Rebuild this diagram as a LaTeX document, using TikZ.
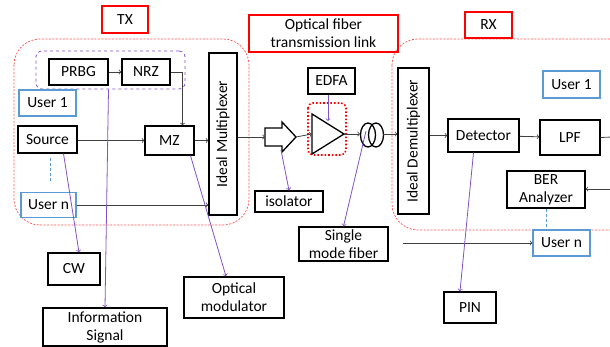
\documentclass[tikz,border=0pt]{standalone}
\usepackage{fontspec}
\setmainfont{Carlito}
\usepackage{graphicx}
\usepackage{tikz}
\usetikzlibrary{arrows}

\definecolor{boxblue}{RGB}{91,155,213}
\definecolor{sigpurple}{RGB}{128,82,200}
\definecolor{zonered}{RGB}{255,80,80}

\begin{document}
\begin{tikzpicture}[x=1pt, y=-1pt, font=\fontsize{15.5}{18}\selectfont]
    \tikzset{blk/.style = {shape=rectangle, draw, line width=1.3pt, inner sep=0pt, align=center}}
    \tikzset{usr/.style = {blk, draw=boxblue}}
    \tikzset{lbl/.style = {blk, draw=red}}
    \tikzset{zone/.style = {draw=zonered, dash pattern=on 2pt off 1.5pt, line width=0.7pt, rounded corners=26pt}}
    \tikzset{conn/.style = {draw=black!75, line width=0.8pt, ->}}
    \tikzset{sig/.style = {draw=sigpurple, line width=0.8pt, ->}}

    \useasboundingbox (0,0) rectangle (610,347);
    \clip (0,0) rectangle (610,347);

    % zones
    \draw[zone] (14,39) rectangle (249,225);
    \draw[zone] (392,39) rectangle (660,230);
    \node[draw=sigpurple, dashed, line width=0.8pt, rounded corners=6pt, minimum width=149, minimum height=38] (msg) at (110.5,70) {};
    \draw[red, dotted, line width=1.6pt, rounded corners=5pt] (308,103) rectangle (346,155);

    % titles
    \node[lbl, minimum width=46, minimum height=27] (tx) at (125,19.5) {TX};
    \node[lbl, minimum width=149, minimum height=37] (link) at (323.5,33.5) {Optical fiber\\transmission link};
    \node[lbl, minimum width=47, minimum height=26] (rx) at (488.5,25) {RX};

    % transmitter
    \node[blk, minimum width=59, minimum height=26] (prbg) at (78.5,72) {PRBG};
    \node[blk, minimum width=48, minimum height=26] (nrz) at (146,72) {NRZ};
    \node[usr, minimum width=57, minimum height=26] (uone) at (47.5,103) {User 1};
    \node[blk, minimum width=59, minimum height=27] (src) at (47.5,139.5) {Source};
    \node[blk, minimum width=49, minimum height=29] (mz) at (169.5,140.5) {MZ};
    \node[blk, minimum width=28, minimum height=162] (mux) at (223,134) {\rotatebox{90}{Ideal Multiplexer}};
    \node[usr, minimum width=55, minimum height=25] (un) at (48.5,205) {User n};
    \node[blk, minimum width=52, minimum height=32] (cw) at (74,269) {CW};
    \node[blk, minimum width=124, minimum height=38] (info) at (105,327) {Information\\Signal};
    \node[blk, minimum width=100, minimum height=41] (mod) at (234,297.5) {Optical\\modulator};

    % link
    \draw[line width=1.3pt] (265,128) -- (282,128) -- (282,122) -- (296,137) -- (282,152) -- (282,146) -- (265,146) -- cycle;
    \draw[line width=1.3pt] (312,114) -- (344,134) -- (312,154) -- cycle;
    \draw[line width=1.3pt] (368,135) ellipse (7.5 and 12);
    \draw[line width=1.3pt] (376,135) ellipse (7.5 and 12);
    \coordinate (isoin) at (265,137);
    \coordinate (isoout) at (296,137);
    \coordinate (isobot) at (281,150);
    \coordinate (ampin) at (312,134);
    \coordinate (ampout) at (344,134);
    \coordinate (ampmid) at (328,121);
    \coordinate (coilin) at (360,134);
    \coordinate (coilout) at (383,134);
    \coordinate (coilmid) at (366,131);
    \node[blk, minimum width=47, minimum height=26] (edfa) at (331.5,81) {EDFA};
    \node[blk, minimum width=68, minimum height=21] (iso) at (289,201.5) {isolator};
    \node[blk, minimum width=89, minimum height=34] (smf) at (343.5,244) {Single\\mode fiber};

    % receiver
    \node[blk, minimum width=31, minimum height=146] (demux) at (413.5,141) {\rotatebox{90}{Ideal Demultiplexer}};
    \node[blk, minimum width=71, minimum height=33] (det) at (483.5,135.5) {Detector};
    \node[blk, minimum width=60, minimum height=35] (lpf) at (570,137.5) {LPF};
    \node[usr, minimum width=57, minimum height=27] (rone) at (571.5,84.5) {User 1};
    \node[blk, minimum width=78, minimum height=37] (ber) at (546,189.5) {BER\\Analyzer};
    \node[usr, minimum width=57, minimum height=26] (rn) at (561.5,243) {User n};
    \node[blk, minimum width=52, minimum height=31] (pin) at (470,307.5) {PIN};
    \coordinate (lpfout) at (612,137);
    \coordinate (berin) at (612,189);
    \coordinate (rnin) at (403,243);

    % edges
    \draw[conn] (prbg) -- (nrz);
    \draw[conn] (nrz.east) -| ([xshift=13pt]mz.north);
    \draw[conn] (src.east |- mz) -- (mz);
    \draw[conn] (mz) -- (mz -| mux.west);
    \draw[conn] (un) -- (un -| mux.west);
    \draw[conn] (mux.east |- isoin) -- (isoin);
    \draw[conn] (isoout) -- (ampin);
    \draw[conn] (ampout) -- (coilin);
    \draw[conn] (coilout) -- (coilout -| demux.west);
    \draw[conn] (demux.east |- det) -- (det);
    \draw[conn] (det) -- (lpf);
    \draw[draw=black!75, line width=0.8pt] (lpf.east) -- (lpfout);
    \draw[conn] (berin) -- (berin -| ber.east);
    \draw[conn] (rnin) -- (rn);

    % pointers
    \draw[sig] ([xshift=16pt]src.south) -- ([xshift=5pt]cw.north);
    \draw[sig] ([xshift=-2pt]msg.south) -- (info.north);
    \draw[sig] ([xshift=21pt]mz.south) -- ([xshift=-8pt]mod.north);
    \draw[sig] (isobot) -- (iso.north);
    \draw[sig] ([xshift=-3.5pt]edfa.south) -- (ampmid);
    \draw[sig] (coilmid) -- (smf.north);
    \draw[sig] ([xshift=-10pt]det.south) -- ([xshift=-10pt]pin.north);

    % dots between users
    \draw[boxblue, densely dashed, line width=0.7pt] (50,158) -- (50,183);
    \draw[boxblue, densely dashed, line width=0.7pt] (ber.south) -- (ber.south |- rn.north);
\end{tikzpicture}
\end{document}
